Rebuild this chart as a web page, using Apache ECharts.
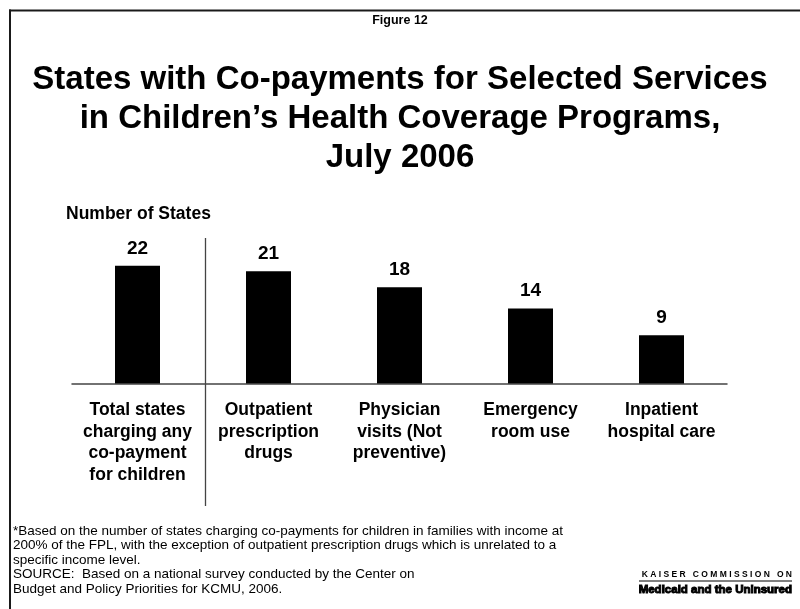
<!DOCTYPE html>
<html>
<head>
<meta charset="utf-8">
<script src="https://cdn.jsdelivr.net/npm/echarts@6/dist/echarts.min.js"></script>
<style>
html,body{margin:0;padding:0;background:#fff;}
#chart{width:800px;height:609px;}
</style>
</head>
<body>
<div id="chart"></div>
<script>
var categories = [
  "Total states\ncharging any\nco-payment\nfor children",
  "Outpatient\nprescription\ndrugs",
  "Physician\nvisits (Not\npreventive)",
  "Emergency\nroom use",
  "Inpatient\nhospital care"
];
var values = [22, 21, 18, 14, 9];
var titleText = "States with Co-payments for Selected Services\nin Children\u2019s Health Coverage Programs,\nJuly 2006";
var figureLabel = "Figure 12";
var axisName = "Number of States";
var footnoteLines = [
  "*Based on the number of states charging co-payments for children in families with income at",
  "200% of the FPL, with the exception of outpatient prescription drugs which is unrelated to a",
  "specific income level.",
  "SOURCE:  Based on a national survey conducted by the Center on",
  "Budget and Policy Priorities for KCMU, 2006."
];
var logoTop = "K A I S E R   C O M M I S S I O N   O N";
var logoBottom = "Medicaid and the Uninsured";

var FONT = "'Liberation Sans', Arial, Helvetica, sans-serif";
var chart = echarts.init(document.getElementById('chart'), null, {renderer: 'canvas'});

var graphics = [
  {type: 'line', shape: {x1: 9, y1: 10.5, x2: 800, y2: 10.5}, style: {stroke: '#1a1a1a', lineWidth: 2}},
  {type: 'line', shape: {x1: 10, y1: 9.5, x2: 10, y2: 609}, style: {stroke: '#1a1a1a', lineWidth: 2}},
  {type: 'line', shape: {x1: 205.5, y1: 238, x2: 205.5, y2: 506}, style: {stroke: '#444', lineWidth: 1.3}},
  {type: 'text', x: 400, y: 21, style: {text: figureLabel, font: "bold 12.5px " + FONT, fill: '#000', align: 'center', verticalAlign: 'middle'}},
  {type: 'text', x: 66, y: 214, style: {text: axisName, font: "bold 17.5px " + FONT, fill: '#000', align: 'left', verticalAlign: 'middle'}},
  {type: 'text', x: 13, y: 524, style: {text: footnoteLines.join("\n"), font: "13.5px " + FONT, lineHeight: 14.5, fill: '#000', align: 'left', verticalAlign: 'top'}},
  {type: 'text', x: 792, y: 575, style: {text: logoTop, font: "bold 8.5px " + FONT, fill: '#000', align: 'right', verticalAlign: 'middle'}},
  {type: 'line', shape: {x1: 639, y1: 581, x2: 792, y2: 581}, style: {stroke: '#000', lineWidth: 1}},
  {type: 'text', x: 792, y: 590, style: {text: logoBottom, font: "bold 11.5px " + FONT, fill: '#000', stroke: '#000', lineWidth: 1, align: 'right', verticalAlign: 'middle'}}
];

chart.setOption({
  animation: false,
  backgroundColor: '#fff',
  title: {
    text: titleText,
    left: 'center',
    top: 55,
    textStyle: {fontFamily: FONT, fontWeight: 'bold', fontSize: 33, lineHeight: 39, color: '#000'}
  },
  grid: {left: 72, width: 655, top: 249.75, bottom: 225.5, containLabel: false},
  xAxis: {
    type: 'category',
    data: categories,
    axisLine: {show: true, lineStyle: {color: '#444', width: 1.5}},
    axisTick: {show: false},
    axisLabel: {
      interval: 0,
      margin: 16,
      fontFamily: FONT,
      fontWeight: 'bold',
      fontSize: 17.5,
      lineHeight: 21.5,
      color: '#000',
      align: 'center',
      verticalAlign: 'top'
    }
  },
  yAxis: {
    type: 'value',
    min: 0,
    max: 25,
    show: false,
    splitLine: {show: false}
  },
  series: [{
    type: 'bar',
    data: values,
    barWidth: 45,
    itemStyle: {color: '#000'},
    label: {
      show: true,
      position: 'top',
      distance: 8,
      fontFamily: FONT,
      fontWeight: 'bold',
      fontSize: 19,
      color: '#000'
    }
  }],
  graphic: graphics
});
</script>
</body>
</html>
